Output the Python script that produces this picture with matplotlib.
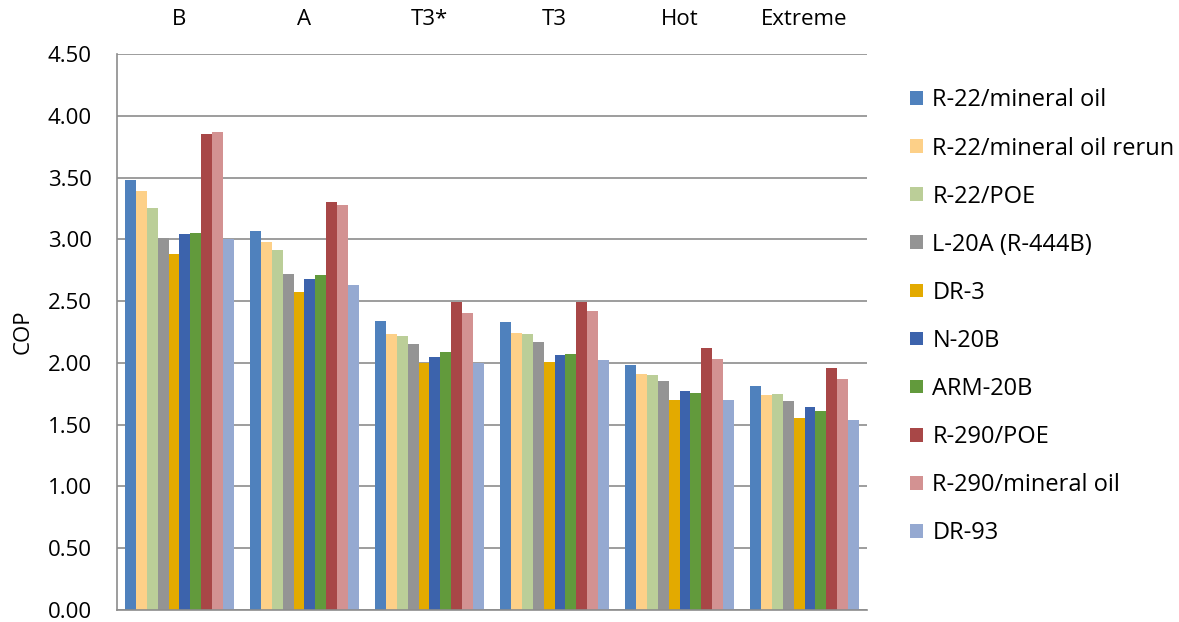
import numpy as np
import matplotlib.pyplot as plt

plt.rcParams['font.family'] = ['Open Sans', 'DejaVu Sans']

categories = ['B', 'A', 'T3*', 'T3', 'Hot', 'Extreme']
series = ['R-22/mineral oil', 'R-22/mineral oil rerun', 'R-22/POE', 'L-20A (R-444B)',
          'DR-3', 'N-20B', 'ARM-20B', 'R-290/POE', 'R-290/mineral oil', 'DR-93']
r22_min = [3.48, 3.07, 2.34, 2.33, 1.98, 1.81]
r22_rerun = [3.39, 2.98, 2.23, 2.24, 1.91, 1.74]
r22_poe = [3.25, 2.91, 2.22, 2.23, 1.90, 1.75]
l20a = [3.01, 2.72, 2.15, 2.17, 1.85, 1.69]
dr3 = [2.88, 2.57, 2.00, 2.01, 1.70, 1.55]
n20b = [3.04, 2.68, 2.05, 2.06, 1.77, 1.64]
arm20b = [3.05, 2.71, 2.09, 2.07, 1.76, 1.61]
r290_poe = [3.85, 3.30, 2.49, 2.49, 2.12, 1.96]
r290_min = [3.87, 3.28, 2.40, 2.42, 2.03, 1.87]
dr93 = [3.00, 2.63, 2.00, 2.02, 1.70, 1.54]
values = [r22_min, r22_rerun, r22_poe, l20a, dr3, n20b, arm20b, r290_poe, r290_min, dr93]
colors = ['#4F81BD', '#FDD088', '#BBCE98', '#949494', '#E3AA00',
          '#3C63AC', '#629A3C', '#A84747', '#D39292', '#95A9D1']

fig = plt.figure(figsize=(11.79, 6.22), dpi=100)
ax = fig.add_axes([0.0992, 0.0193, 0.6362, 0.8939])

x = np.arange(len(categories))
w = 0.087
for i, (name, vals, c) in enumerate(zip(series, values, colors)):
    ax.bar(x + (i - 4.5) * w, vals, w, color=c, label=name)

ax.set_xlim(-0.5, 5.5)
ax.set_ylim(0, 4.5)
ax.set_yticks(np.arange(0, 4.51, 0.5))
ax.set_yticklabels(['%.2f' % v for v in np.arange(0, 4.51, 0.5)], fontsize=16)
ax.yaxis.grid(True, color='#8c8c8c', linewidth=1.2)
ax.set_axisbelow(True)
ax.xaxis.tick_top()
ax.set_xticks(x)
ax.set_xticklabels(categories, fontsize=16)
ax.tick_params(length=0)
ax.tick_params(axis='x', pad=17)
ax.tick_params(axis='y', pad=18)
for s in ['top', 'right']:
    ax.spines[s].set_visible(False)
for s in ['left', 'bottom']:
    ax.spines[s].set_color('#8c8c8c')
    ax.spines[s].set_linewidth(1.2)
ax.set_ylabel('COP', fontsize=16, labelpad=10)

ax.legend(loc='upper left', bbox_to_anchor=(1.045, 0.955), frameon=False, fontsize=17,
          handlelength=0.52, handleheight=0.52, handletextpad=0.42, labelspacing=1.02,
          borderaxespad=0)

fig.savefig('out.png', dpi=100)
